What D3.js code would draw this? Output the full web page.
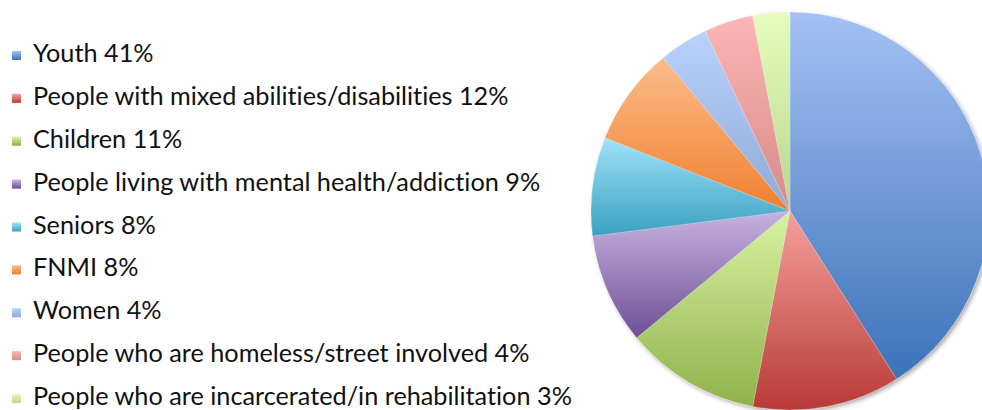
<!DOCTYPE html>
<html>
<head>
<meta charset="utf-8">
<script src="https://cdn.jsdelivr.net/npm/d3@7"></script>
<style>
  body { margin: 0; background: #fff; }
  svg { display: block; }
  .legend text { font-family: Lato, "Open Sans", sans-serif; fill: #111; font-variant-ligatures: none; }
</style>
</head>
<body>
<svg width="982" height="410"></svg>
<script>
// data
var groups = ['Youth', 'People with mixed abilities/disabilities', 'Children',
              'People living with mental health/addiction', 'Seniors', 'FNMI',
              'Women', 'People who are homeless/street involved',
              'People who are incarcerated/in rehabilitation'];
var shares = [41, 12, 11, 9, 8, 8, 4, 4, 3];

// gradient colours, light (top) -> dark (bottom)
var topColors    = ['#a4c0f4', '#f5a19d', '#d7f3a2', '#c6b3e0', '#a0e2fa', '#fbbd8b', '#b9d2fc', '#fcb6b6', '#e6fdbb'];
var bottomColors = ['#3c72b9', '#b93a36', '#8fb24b', '#6f4e96', '#3aa1c0', '#f07f2e', '#8eaad6', '#d68a88', '#b6d68e'];

var width = 982, height = 410;
var cx = 790, cy = 211, radius = 199;

var svg = d3.select('svg');
var defs = svg.append('defs');

groups.forEach(function(g, i) {
    var grad = defs.append('linearGradient')
        .attr('id', 'grad' + i)
        .attr('x1', 0).attr('y1', 0).attr('x2', 0).attr('y2', 1);
    grad.append('stop').attr('offset', '0%').attr('stop-color', topColors[i]);
    grad.append('stop').attr('offset', '100%').attr('stop-color', bottomColors[i]);
});

var shadow = defs.append('filter').attr('id', 'shadow')
    .attr('x', '-10%').attr('y', '-10%').attr('width', '120%').attr('height', '120%');
shadow.append('feDropShadow')
    .attr('dx', 2).attr('dy', 2).attr('stdDeviation', 2)
    .attr('flood-color', '#000').attr('flood-opacity', 0.35);

// pie
var pie = d3.pie().sort(null).value(function(d) { return d; });
var arc = d3.arc().innerRadius(0).outerRadius(radius);

var pieG = svg.append('g')
    .attr('transform', 'translate(' + cx + ',' + cy + ')')
    .attr('filter', 'url(#shadow)');

pieG.selectAll('path')
    .data(pie(shares))
    .enter()
    .append('path')
    .attr('d', arc)
    .attr('fill', function(d, i) { return 'url(#grad' + i + ')'; })
    .attr('stroke', 'rgba(255,255,255,0.35)')
    .attr('stroke-width', 0.6);

// legend
var rowY = d3.scalePoint().domain(d3.range(groups.length)).range([62, 405]);

var legend = svg.append('g').attr('class', 'legend');

var rows = legend.selectAll('g')
    .data(groups)
    .enter()
    .append('g')
    .attr('transform', function(d, i) { return 'translate(0,' + rowY(i) + ')'; });

rows.append('rect')
    .attr('x', 12).attr('y', -11)
    .attr('width', 9).attr('height', 9)
    .attr('fill', function(d, i) { return 'url(#grad' + i + ')'; });

var labels = rows.append('text')
    .attr('x', 33).attr('y', 0)
    .style('font-size', '22px')
    .text(function(d, i) { return d + ' ' + shares[i] + '%'; });

// fit the font so the longest label spans like the original
var longest = d3.max(labels.nodes(), function(n) { return n.getComputedTextLength(); });
var fs = 22 * 539 / longest;
labels.style('font-size', fs + 'px');
</script>
</body>
</html>
